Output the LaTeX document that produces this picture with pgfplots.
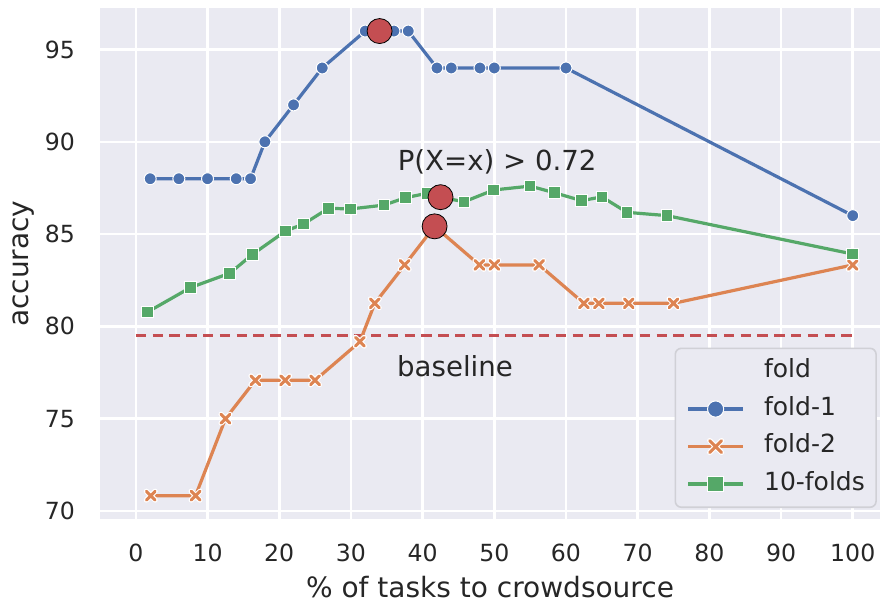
\documentclass[border=0pt]{standalone}
\usepackage{fontspec}
\setmainfont{DejaVu Sans}
\usepackage{pgfplots}
\pgfplotsset{compat=1.18}
\definecolor{c0}{HTML}{4C72B0}
\definecolor{c1}{HTML}{DD8452}
\definecolor{c2}{HTML}{55A868}
\definecolor{c3}{HTML}{C44E52}
\definecolor{bgc}{HTML}{EAEAF2}
\definecolor{txt}{HTML}{262626}
\definecolor{legedge}{HTML}{D0D0D6}
\newcommand\ticksize{\fontsize{11.8}{14}\selectfont}
\newcommand\labsize{\fontsize{14}{17}\selectfont}
\newcommand\annsize{\fontsize{13.8}{16}\selectfont}
\newcommand\legsize{\fontsize{12.5}{15}\selectfont}
\pgfdeclareplotmark{fatx}{%
  \pgfsetroundcap
  \pgfsetlinewidth{2.6pt}\pgfsetstrokecolor{white}%
  \pgfpathmoveto{\pgfqpoint{-\pgfplotmarksize}{-\pgfplotmarksize}}%
  \pgfpathlineto{\pgfqpoint{\pgfplotmarksize}{\pgfplotmarksize}}%
  \pgfpathmoveto{\pgfqpoint{-\pgfplotmarksize}{\pgfplotmarksize}}%
  \pgfpathlineto{\pgfqpoint{\pgfplotmarksize}{-\pgfplotmarksize}}%
  \pgfusepathqstroke
  \pgfsetlinewidth{1.5pt}\pgfsetstrokecolor{c1}%
  \pgfpathmoveto{\pgfqpoint{-\pgfplotmarksize}{-\pgfplotmarksize}}%
  \pgfpathlineto{\pgfqpoint{\pgfplotmarksize}{\pgfplotmarksize}}%
  \pgfpathmoveto{\pgfqpoint{-\pgfplotmarksize}{\pgfplotmarksize}}%
  \pgfpathlineto{\pgfqpoint{\pgfplotmarksize}{-\pgfplotmarksize}}%
  \pgfusepathqstroke
}
\begin{document}
\begin{tikzpicture}
\begin{axis}[name=ax, scale only axis, width=390pt, height=255.65pt,
  xmin=-5, xmax=103.8, ymin=69.55, ymax=97.25,
  xtick={0,10,...,100}, ytick={70,75,...,95},
  /pgf/number format/assume math mode=true,
  axis background/.style={fill=bgc},
  axis line style={draw=none},
  major tick length=0pt,
  grid=major, major grid style={white, line width=1.3pt},
  tick label style={font=\ticksize, text=txt},
  xticklabel style={yshift=-8.7pt},
  yticklabel style={xshift=-9pt},
  xlabel={\% of tasks to crowdsource},
  ylabel={accuracy},
  label style={font=\labsize, text=txt},
  xlabel style={at={([yshift=-33.9pt]axis description cs:0.5,0)}, anchor=center},
  ylabel style={at={([xshift=-38pt]axis description cs:0,0.5)}, anchor=center},
  legend image code/.code={\path[draw=none,fill=none] (0pt,0pt) -- (38pt,0pt);
    \draw[mark repeat=2,mark phase=2,#1,every mark/.append style={scale=1.35}] plot coordinates {(0pt,0pt) (13.75pt,0pt) (27.5pt,0pt)};},
  legend cell align=left,
  legend style={at={(0.996,0.022)}, anchor=south east, font=\legsize, text=txt,
    fill=bgc, draw=legedge, line width=0.8pt, rounded corners=3pt,
    inner xsep=5.6pt, inner ysep=5.6pt, row sep=6.75pt,
    nodes={inner sep=0pt, text height=9pt, text depth=3pt}},
]
\addplot[c3, line width=1.6pt, dash pattern=on 5.2pt off 3.2pt, forget plot] coordinates {(0,79.5) (100,79.5)};
\addlegendimage{empty legend}
\addlegendentry{fold}
\addplot[c0, line width=1.6pt, mark=*, mark size=3pt, mark options={fill=c0, draw=white, line width=0.5pt}] coordinates {
(2,88) (6,88) (10,88) (14,88) (16,88) (18,90) (22,92) (26,94) (32,96) (34,96) (36,96) (38,96) (42,94) (44,94) (48,94) (50,94) (60,94) (100,86)};
\addlegendentry{fold-1}
\addplot[c1, line width=1.6pt, mark=fatx, mark size=2.2pt] coordinates {
(2.08,70.83) (8.33,70.83) (12.5,75) (16.67,77.08) (20.83,77.08) (25,77.08) (31.25,79.17) (33.33,81.25) (37.5,83.33) (41.67,85.42) (47.92,83.33) (50,83.33) (56.25,83.33) (62.5,81.25) (64.58,81.25) (68.75,81.25) (75,81.25) (100,83.33)};
\addlegendentry{fold-2}
\addplot[c2, line width=1.6pt, mark=square*, mark size=2.9pt, mark options={fill=c2, draw=white, line width=0.5pt}] coordinates {
(1.6,80.77) (7.6,82.1) (13.1,82.88) (16.3,83.91) (20.9,85.17) (23.4,85.55) (26.9,86.4) (29.9,86.36) (34.6,86.57) (37.6,86.97) (40.6,87.21) (42.5,87.0) (45.8,86.75) (49.9,87.39) (55.0,87.6) (58.4,87.24) (62.2,86.81) (65.0,87.02) (68.5,86.18) (74.1,86.0) (100,83.92)};
\addlegendentry{10-folds}
\addplot[only marks, mark=*, mark size=6.25pt, mark options={fill=c3, draw=none}, forget plot] coordinates {(34,96) (42.5,87.0) (41.67,85.42)};
\node[font=\annsize, text=txt] at (axis cs:50.4,88.92) {P(X=x) > 0.72};
\node[font=\annsize, text=txt, anchor=west, inner sep=0pt] at (axis cs:36.4,77.83) {baseline};
\end{axis}
\pgfresetboundingbox
\path ([xshift=-50pt,yshift=-41.85pt]ax.south west) rectangle ([yshift=4pt]ax.north east);
\end{tikzpicture}
\end{document}
